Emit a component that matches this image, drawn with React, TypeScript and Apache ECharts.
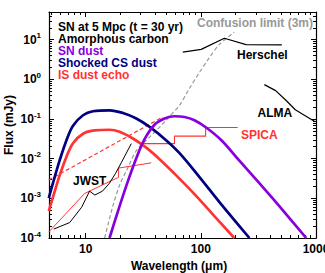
import React, { useEffect, useRef } from 'react';
import * as echarts from 'echarts';

// ---- axis ranges and ticks ----
const xRange = [4.8, 1000];
const yRange = [1e-4, 50];
const xMajorTicks = [10, 100, 1000];
const xMinorTicks = [5, 6, 7, 8, 9, 20, 30, 40, 50, 60, 70, 80, 90, 200, 300, 400, 500, 600, 700, 800, 900];
const yMajorTicks = [1e-4, 1e-3, 1e-2, 1e-1, 1, 10];
const yMinorTicks = [
  2e-4, 3e-4, 4e-4, 5e-4, 6e-4, 7e-4, 8e-4, 9e-4,
  2e-3, 3e-3, 4e-3, 5e-3, 6e-3, 7e-3, 8e-3, 9e-3,
  2e-2, 3e-2, 4e-2, 5e-2, 6e-2, 7e-2, 8e-2, 9e-2,
  0.2, 0.3, 0.4, 0.5, 0.6, 0.7, 0.8, 0.9,
  2, 3, 4, 5, 6, 7, 8, 9, 20, 30, 40,
];

// ---- series data (wavelength in micron, flux in mJy) ----
const shockedWl = [4.78, 5.28, 5.95, 6.81, 7.76, 9.48, 11.57, 16.1, 21.05, 27.5, 35.9, 49.3, 65.3, 97.3, 145, 264];
const shockedFlux = [1.02e-3, 2.86e-3, 9.18e-3, 2.92e-2, 6.78e-2, 0.1245, 0.157, 0.166, 0.142, 0.103, 0.0632, 0.0301, 0.01377, 3.43e-3, 8.05e-4, 1e-4];

const echoWl = [4.78, 5.39, 5.95, 6.81, 7.76, 9.48, 11.97, 16.1, 19.7, 25.5, 33.1, 43.8, 59, 88, 131, 195];
const echoFlux = [4.78e-4, 1.52e-3, 3.85e-3, 1.124e-2, 2.46e-2, 4.26e-2, 0.0518, 0.0537, 0.0478, 0.0328, 0.0195, 9.72e-3, 4.2e-3, 1.28e-3, 3.58e-4, 1e-4];

const snWl = [16.1, 19.32, 23.26, 27.5, 32.45, 39.6, 48.4, 59, 72.1, 88, 111.8, 150.8, 216, 322, 480, 822];
const snFlux = [1e-4, 5.37e-4, 2.72e-3, 1.03e-2, 3.1e-2, 0.0718, 0.1028, 0.1175, 0.1127, 0.0931, 0.0603, 0.0292, 8.92e-3, 2.42e-3, 6.38e-4, 1e-4];

const echoUpperWl = [4.78, 46.8];
const echoUpperFlux = [2.9e-3, 0.113];

const echoLowerWl = [4.78, 9.8, 19.3, 19.3, 37.1];
const echoLowerFlux = [1.42e-4, 1.33e-3, 3.4e-3, 5.8e-3, 7.85e-3];

const spicaWl = [31.4, 59, 59, 110, 110, 209];
const spicaFlux = [0.024, 0.024, 0.037, 0.037, 0.061, 0.061];

const jwstWl = [5.28, 7.26, 9.23, 10.1, 10.8, 12.0, 14.0, 16.1, 18.2, 20.5, 24.9];
const jwstFlux = [1.68e-4, 2.45e-4, 6.0e-4, 1.02e-3, 1.52e-3, 1.21e-3, 1.52e-3, 2.42e-3, 4.3e-3, 8.2e-3, 0.024];

const confusionWl = [14.6, 17.1, 19.7, 22.7, 27.7, 35.9, 45.6, 53.5, 65.3, 79.7, 97.3, 119, 145, 195];
const confusionFlux = [1e-4, 6.0e-4, 2.16e-3, 5.1e-3, 1.64e-2, 3.5e-2, 0.07, 0.117, 0.222, 0.596, 1.5, 3.59, 7.6, 15.5];

const herschelWl = [69.7, 100.7, 160, 247, 505];
const herschelFlux = [4.87, 5.7, 10.9, 7.5, 7.4];

const almaWl = [356, 446, 548, 661, 839, 984];
const almaFlux = [0.738, 0.521, 0.297, 0.171, 0.113, 0.0855];

const legendLines = [
  { text: 'SN at 5 Mpc (t = 30 yr)', color: '#000000' },
  { text: 'Amorphous carbon', color: '#000000' },
  { text: 'SN dust', color: '#8a00dd' },
  { text: 'Shocked CS dust', color: '#000080' },
  { text: 'IS dust echo', color: '#ff3333' },
];

const FONT = '"Liberation Sans", Arial, Helvetica, sans-serif';
const RED = '#ff3333';
const lg = Math.log10;

const pts = (xs: number[], ys: number[]) => xs.map((x, i) => [lg(x), lg(ys[i])]);

function xAxisDef(position: 'top' | 'bottom', ticks: number[], len: number, main: boolean, labels: boolean) {
  return {
    type: 'value',
    position,
    min: lg(xRange[0]),
    max: lg(xRange[1]),
    axisLine: { show: main, onZero: false, lineStyle: { color: '#000', width: 1.2 } },
    axisTick: { show: true, inside: true, length: len, customValues: ticks.map(lg), lineStyle: { color: '#000', width: 1 } },
    axisLabel: labels
      ? {
          show: true,
          customValues: ticks.map(lg),
          formatter: (v: number) => String(Math.round(Math.pow(10, v))),
          margin: 5,
          color: '#000',
          fontSize: 12,
          fontWeight: 'bold',
          fontFamily: FONT,
        }
      : { show: false },
    splitLine: { show: false },
  };
}

function yAxisDef(position: 'left' | 'right', ticks: number[], len: number, main: boolean, labels: boolean) {
  return {
    type: 'value',
    position,
    min: lg(yRange[0]),
    max: lg(yRange[1]),
    axisLine: { show: main, onZero: false, lineStyle: { color: '#000', width: 1.2 } },
    axisTick: { show: true, inside: true, length: len, customValues: ticks.map(lg), lineStyle: { color: '#000', width: 1 } },
    axisLabel: labels
      ? {
          show: true,
          customValues: ticks.map(lg),
          formatter: (v: number) => `{b|10}{s|${Math.round(v)}}`,
          margin: 8,
          rich: {
            b: { fontSize: 12, fontWeight: 'bold', fontFamily: FONT, color: '#000', lineHeight: 16, verticalAlign: 'middle' },
            s: { fontSize: 8, fontWeight: 'bold', fontFamily: FONT, color: '#000', lineHeight: 9, verticalAlign: 'top' },
          },
        }
      : { show: false },
    splitLine: { show: false },
  };
}

function lineSeries(xs: number[], ys: number[], color: string, width: number, dashed?: number[], smooth?: number) {
  return {
    type: 'line',
    data: pts(xs, ys),
    showSymbol: false,
    symbol: 'none',
    silent: true,
    smooth: smooth || false,
    clip: true,
    lineStyle: { color, width, type: dashed ? dashed : 'solid', join: 'round', cap: 'butt' },
    emphasis: { disabled: true },
    xAxisIndex: 0,
    yAxisIndex: 0,
  };
}

function text(t: string, x: number, y: number, color: string, align: string = 'left', extra: any = {}) {
  return {
    type: 'text',
    x,
    y,
    silent: true,
    ...extra,
    style: {
      text: t,
      fill: color,
      font: `bold 12px ${FONT}`,
      textAlign: align,
      textVerticalAlign: 'middle',
    },
  };
}

export default function App() {
  const ref = useRef<HTMLDivElement>(null);
  useEffect(() => {
    if (!ref.current) return;
    const chart = echarts.init(ref.current, null, { renderer: 'svg' });
    const legendY = [27, 39, 51, 63, 75];
    chart.setOption({
      animation: false,
      backgroundColor: '#ffffff',
      grid: { left: 49, right: 9, top: 12, bottom: 35, containLabel: false, outerBoundsMode: 'none' },
      xAxis: [
        xAxisDef('bottom', xMajorTicks, 5, true, true),
        xAxisDef('bottom', xMinorTicks, 3, false, false),
        xAxisDef('top', xMajorTicks, 5, true, false),
        xAxisDef('top', xMinorTicks, 3, false, false),
      ],
      yAxis: [
        yAxisDef('left', yMajorTicks, 5, true, true),
        yAxisDef('left', yMinorTicks, 3, false, false),
        yAxisDef('right', yMajorTicks, 5, true, false),
        yAxisDef('right', yMinorTicks, 3, false, false),
      ],
      series: [
        lineSeries(confusionWl, confusionFlux, '#999999', 1.2, [4, 2.5], 0.3),
        lineSeries(echoUpperWl, echoUpperFlux, RED, 1.2, [4, 2.5]),
        lineSeries(echoLowerWl, echoLowerFlux, RED, 1),
        lineSeries(spicaWl, spicaFlux, RED, 1.1),
        lineSeries(jwstWl, jwstFlux, '#000000', 1),
        lineSeries(herschelWl, herschelFlux, '#000000', 1.2),
        lineSeries(almaWl, almaFlux, '#000000', 1.2),
        lineSeries(echoWl, echoFlux, RED, 2.7, undefined, 0.35),
        lineSeries(shockedWl, shockedFlux, '#000080', 2.7, undefined, 0.35),
        lineSeries(snWl, snFlux, '#8a00dd', 2.7, undefined, 0.35),
      ],
      graphic: [
        ...legendLines.map((l, i) => text(l.text, 58, legendY[i], l.color)),
        text('Confusion limit (3m)', 313, 23, '#999999', 'right'),
        text('Herschel', 237, 54.5, '#000000'),
        text('ALMA', 257.5, 112.5, '#000000'),
        text('SPICA', 241, 134.5, RED),
        text('JWST', 73, 180.5, '#000000'),
        text('Wavelength (\u03bcm)', 179, 266, '#000000', 'center'),
        text('Flux (mJy)', 9, 125, '#000000', 'center', { rotation: Math.PI / 2 }),
      ],
    });
    return () => chart.dispose();
  }, []);
  return <div ref={ref} style={{ position: 'fixed', left: 0, top: 0, width: 325, height: 273 }} />;
}
